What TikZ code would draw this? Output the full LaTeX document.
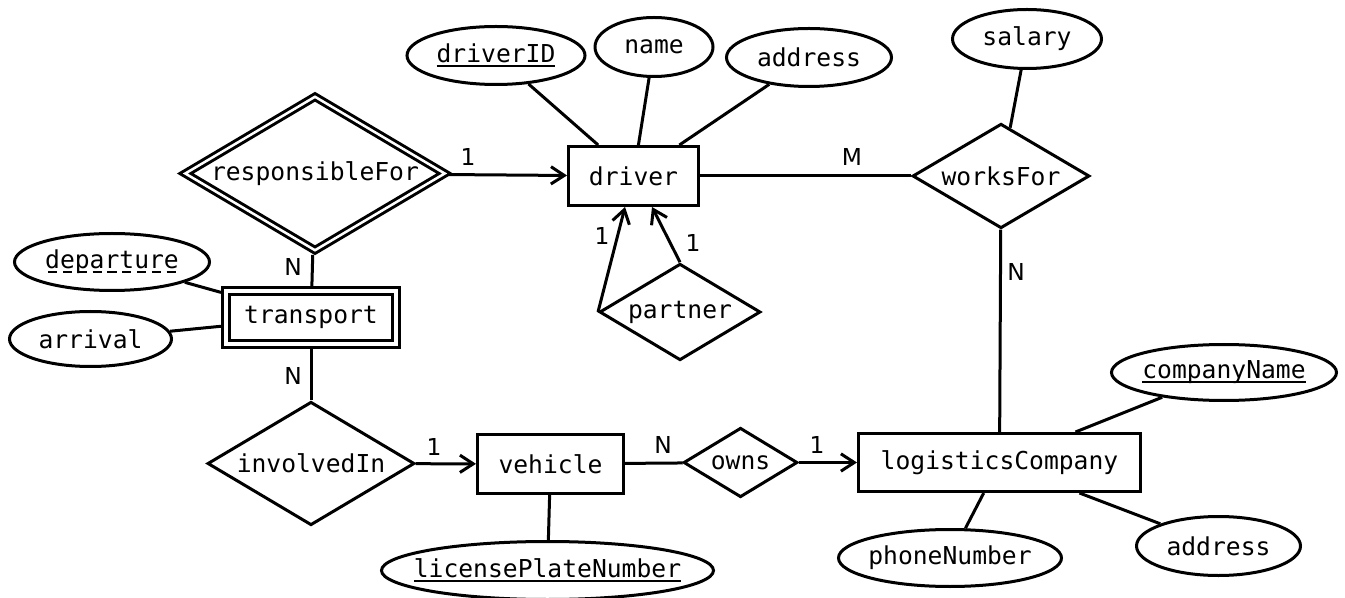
\documentclass[tikz,border=0pt]{standalone}
\usepackage{fontspec}
\newfontfamily\ermono{DejaVu Sans Mono}
\newfontfamily\ercard{DejaVu Sans}
\usetikzlibrary{shapes.geometric,arrows.meta,calc}
\newcommand\keyul[1]{\setbox0\hbox{#1}\rlap{\rule[-3pt]{\wd0}{1.5pt}}\box0}
\newcommand\partkeyul[1]{\setbox0\hbox{#1}\rlap{\raisebox{-3pt}{\hbox to \wd0{\cleaders\hbox to 11.1pt{\hss\rule{6.8pt}{1.5pt}\hss}\hfill}}}\box0}
\begin{document}
\begin{tikzpicture}[x=0.75pt,y=-0.75pt,
  font=\ermono\fontsize{18.5}{22}\selectfont,
  line width=2.25pt,
  ent/.style={draw, rectangle, inner sep=0pt},
  att/.style={draw, ellipse, inner sep=0pt},
  rel/.style={draw, diamond, inner sep=0pt},
  dbl/.style={double, double distance=#1},
  sz/.style 2 args={minimum width=#1, minimum height=#2},
  txt/.style={label={center:{#1}}},
  card/.style={font=\ercard\fontsize{17.5}{21}\selectfont, inner sep=0pt},
  ln/.style={line width=2.25pt},
  arr/.style={ln, -{Straight Barb[length=10pt,width=13pt]}}]
\useasboundingbox (0,0) rectangle (1345,598);
% entities
\node[ent, sz={97.5pt}{44.25pt}, txt=driver] (drv) at (633.5,176) {};
\node[ent, sz={109.5pt}{44.25pt}, txt=vehicle] (veh) at (550.5,464) {};
\node[ent, sz={211.5pt}{43.5pt}, txt=logisticsCompany] (lc) at (999.5,462.5) {};
\node[ent, dbl=3pt, outer sep=3.75pt, sz={127.5pt}{39.75pt}, txt=transport] (tr) at (311,317.5) {};
% attributes
\node[att, sz={133.5pt}{43.5pt}, txt={\keyul{driverID}}] (did) at (496,55.5) {};
\node[att, sz={88.5pt}{44.25pt}, txt=name] (nm) at (654,47) {};
\node[att, sz={123.75pt}{43.5pt}, txt=address] (adr) at (809,57.5) {};
\node[att, sz={111.75pt}{44.25pt}, txt=salary] (sal) at (1027,39) {};
\node[att, sz={146.25pt}{42.75pt}, txt={\partkeyul{departure}}] (dep) at (112,262) {};
\node[att, sz={121.5pt}{41.25pt}, txt=arrival] (arv) at (90.5,339) {};
\node[att, sz={168.75pt}{42pt}, txt={\keyul{companyName}}] (cn) at (1224,372.5) {};
\node[att, sz={123pt}{44.25pt}, txt=address] (adr2) at (1218.5,546) {};
\node[att, sz={167.25pt}{42.75pt}, txt=phoneNumber] (ph) at (950,558) {};
\node[att, sz={249pt}{43.5pt}, txt={\keyul{licensePlateNumber}}] (lpn) at (547.5,570.5) {};
% relationships
\node[rel, dbl=1.875pt, outer sep=3.2pt, sz={197.25pt}{117.75pt}, txt=responsibleFor] (rf) at (315,173.5) {};
\node[rel, sz={132.75pt}{78.4pt}, txt=worksFor] (wf) at (1001,176) {};
\node[rel, sz={120.75pt}{72.4pt}, txt=partner] (pt) at (680,312) {};
\node[rel, sz={155.25pt}{92.6pt}, txt=involvedIn] (inv) at (311,463.5) {};
\node[rel, sz={85.5pt}{52.1pt}, txt=owns] (own) at (740.5,462.5) {};
% connectors
\draw[ln] (did) -- (drv);
\draw[ln] (nm) -- (drv);
\draw[ln] (adr) -- (drv);
\draw[arr] (rf) -- (drv);
\draw[ln] (drv) -- (wf);
\draw[ln] (sal) -- (wf);
\draw[ln] (wf) -- (lc);
\draw[ln] (cn) -- (lc);
\draw[ln] (adr2) -- (lc);
\draw[ln] (ph) -- (lc);
\draw[arr] (own) -- (lc);
\draw[ln] (veh) -- (own);
\draw[ln] (lpn) -- (veh);
\draw[arr] (inv) -- (veh);
\draw[ln] (tr) -- (inv);
\draw[ln] (rf) -- (tr);
\draw[ln] (dep) -- (tr);
\draw[ln] (arv) -- (tr);
\draw[arr] (pt.west) -- ($(drv.south)+(-8.5,0)$);
\draw[arr] (pt.north) -- ($(drv.south)+(18.5,0)$);
% cardinalities
\node[card] (k1) at (468,157) {1};
\node[card] (k2) at (852,157) {M};
\node[card] (k3) at (1016,272) {N};
\node[card] (k4) at (602,236) {1};
\node[card] (k5) at (693,243) {1};
\node[card] (k6) at (293,267) {N};
\node[card] (k7) at (293,376) {N};
\node[card] (k8) at (434,447) {1};
\node[card] (k9) at (663,445) {N};
\node[card] (k10) at (817,445) {1};
\end{tikzpicture}
\end{document}
